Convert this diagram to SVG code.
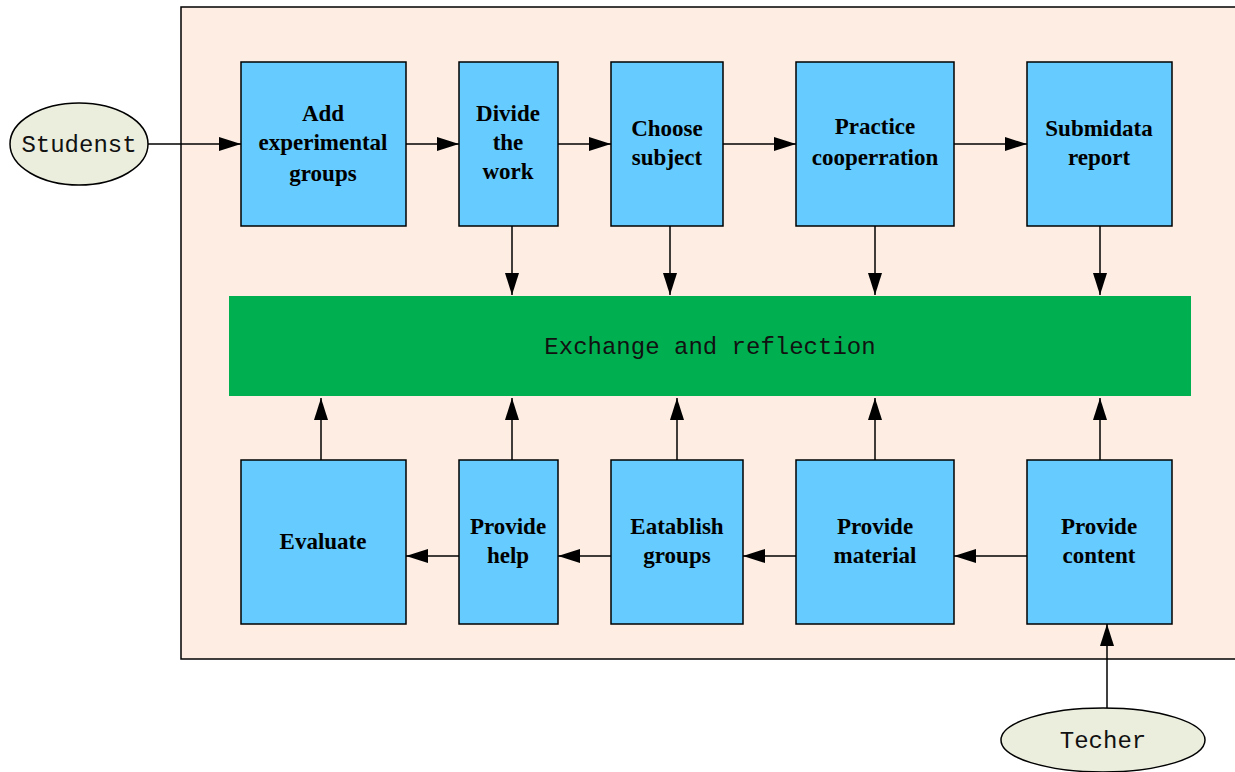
<svg xmlns="http://www.w3.org/2000/svg" width="1235" height="772" viewBox="0 0 1235 772">
<style>
.box{fill:#66CCFF;stroke:#000;stroke-width:1.5}
.lbl{font-family:"Liberation Serif",serif;font-weight:bold;font-size:23px;text-anchor:middle;fill:#000}
.mono{font-family:"Liberation Mono",monospace;font-size:24px;text-anchor:middle;fill:#111}
.ell{fill:#EBEEDD;stroke:#000;stroke-width:1.5}
</style>
<defs>
<marker id="ah2" viewBox="0 0 22 14" refX="22" refY="7" markerWidth="22" markerHeight="14" markerUnits="userSpaceOnUse" orient="auto">
<path d="M0,0 L22,7 L0,14 z" fill="#000"/>
</marker>
</defs>
<rect x="181" y="7" width="1060" height="652" fill="#FDEDE2" stroke="#000" stroke-width="1.5"/>
<g id="connectors" stroke="#000" stroke-width="1.5" fill="none">
<path d="M148,144 H241" marker-end="url(#ah2)"/>
<path d="M406,144 H459" marker-end="url(#ah2)"/>
<path d="M558,144 H611" marker-end="url(#ah2)"/>
<path d="M723,144 H796" marker-end="url(#ah2)"/>
<path d="M954,144 H1027" marker-end="url(#ah2)"/>
<path d="M512,226 V295" marker-end="url(#ah2)"/>
<path d="M670,226 V295" marker-end="url(#ah2)"/>
<path d="M875,226 V295" marker-end="url(#ah2)"/>
<path d="M1100,226 V295" marker-end="url(#ah2)"/>
<path d="M321,460 V398" marker-end="url(#ah2)"/>
<path d="M512,460 V398" marker-end="url(#ah2)"/>
<path d="M677,460 V398" marker-end="url(#ah2)"/>
<path d="M875,460 V398" marker-end="url(#ah2)"/>
<path d="M1100,460 V398" marker-end="url(#ah2)"/>
<path d="M1027,556 H954" marker-end="url(#ah2)"/>
<path d="M796,556 H743" marker-end="url(#ah2)"/>
<path d="M611,556 H558" marker-end="url(#ah2)"/>
<path d="M459,556 H406" marker-end="url(#ah2)"/>
<path d="M1107,708 V624" marker-end="url(#ah2)"/>
</g>
<g id="studenst"><ellipse class="ell" cx="79" cy="144" rx="69" ry="41"/><text class="mono" x="79" y="152">Studenst</text></g>
<g id="techer"><ellipse class="ell" cx="1103" cy="740" rx="102" ry="32"/><text class="mono" x="1103" y="748">Techer</text></g>
<g id="exchange"><rect x="229" y="296" width="962" height="100" fill="#00B050"/><text class="mono" x="710" y="354">Exchange and reflection</text></g>
<g id="add"><rect class="box" x="241" y="62" width="165" height="164"/><text class="lbl" x="323" y="121">Add</text><text class="lbl" x="323" y="150">experimental</text><text class="lbl" x="323" y="181">groups</text></g>
<g id="divide"><rect class="box" x="459" y="62" width="99" height="164"/><text class="lbl" x="508" y="121">Divide</text><text class="lbl" x="508" y="150">the</text><text class="lbl" x="508" y="179">work</text></g>
<g id="choose"><rect class="box" x="611" y="62" width="112" height="164"/><text class="lbl" x="667" y="136">Choose</text><text class="lbl" x="667" y="165">subject</text></g>
<g id="practice"><rect class="box" x="796" y="62" width="158" height="164"/><text class="lbl" x="875" y="134">Practice</text><text class="lbl" x="875" y="165">cooperration</text></g>
<g id="submit"><rect class="box" x="1027" y="62" width="145" height="164"/><text class="lbl" x="1099" y="136">Submidata</text><text class="lbl" x="1099" y="165">report</text></g>
<g id="evaluate"><rect class="box" x="241" y="460" width="165" height="164"/><text class="lbl" x="323" y="549">Evaluate</text></g>
<g id="help"><rect class="box" x="459" y="460" width="99" height="164"/><text class="lbl" x="508" y="534">Provide</text><text class="lbl" x="508" y="563">help</text></g>
<g id="establish"><rect class="box" x="611" y="460" width="132" height="164"/><text class="lbl" x="677" y="534">Eatablish</text><text class="lbl" x="677" y="563">groups</text></g>
<g id="material"><rect class="box" x="796" y="460" width="158" height="164"/><text class="lbl" x="875" y="534">Provide</text><text class="lbl" x="875" y="563">material</text></g>
<g id="content"><rect class="box" x="1027" y="460" width="145" height="164"/><text class="lbl" x="1099" y="534">Provide</text><text class="lbl" x="1099" y="563">content</text></g>
</svg>
